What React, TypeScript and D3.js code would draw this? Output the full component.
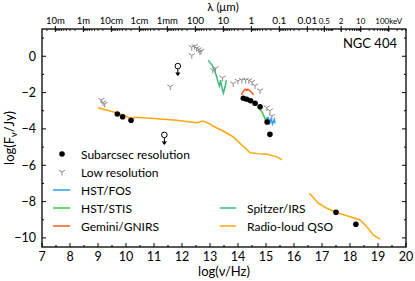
import React from "react";
import * as d3 from "d3";

// NGC 404 SED
const subarcsecNu = [9.69, 9.88, 10.18, 14.19, 14.31, 14.45, 14.61, 14.79, 15.04, 15.14, 17.5, 18.21];
const subarcsecLogF = [-3.18, -3.33, -3.52, -2.31, -2.37, -2.45, -2.59, -2.78, -3.62, -4.3, -8.59, -9.25];

const lowResNu = [9.12, 9.18, 9.24, 11.58, 12.35, 12.45, 12.52, 12.6, 12.68, 12.35, 12.64, 13.1, 13.2, 13.45,
  13.83, 14.0, 14.14, 14.27, 14.39, 14.5, 14.61, 14.79, 15.03, 15.14, 15.21];
const lowResLogF = [-2.4, -2.55, -2.62, -1.67, 0.5, 0.55, 0.45, 0.38, 0.3, 0.05, 0.25, -0.76, -0.66, -1.18,
  -1.5, -1.36, -1.31, -1.31, -1.33, -1.42, -1.61, -1.88, -2.82, -2.99, -3.29];

const upperLimNu = [11.85, 11.37];
const upperLimLogF = [-0.54, -4.33];

const fosNu = [15.03, 15.05, 15.09, 15.13, 15.18, 15.23, 15.29, 15.32];
const fosLogF = [-3.34, -3.56, -3.43, -3.67, -3.45, -3.73, -3.48, -3.7];

const stisNu = [14.76, 14.8, 14.84, 14.87, 14.9, 14.93, 14.96, 15.0, 15.03];
const stisLogF = [-2.79, -2.95, -3.04, -3.1, -3.23, -3.3, -3.43, -3.52, -3.67];

const gnirsNu = [14.13, 14.16, 14.19, 14.23, 14.27, 14.31, 14.35, 14.39, 14.43, 14.47, 14.51, 14.55];
const gnirsLogF = [-2.13, -1.98, -1.94, -1.86, -1.82, -1.88, -1.82, -1.86, -1.9, -1.97, -2.02, -2.13];

const irsNu = [12.94, 13.0, 13.04, 13.08, 13.12, 13.18, 13.24, 13.3, 13.34, 13.38, 13.43, 13.48, 13.54, 13.58];
const irsLogF = [-0.21, -0.35, -0.43, -0.5, -0.66, -0.87, -1.13, -1.49, -1.64, -1.31, -1.75, -2.02, -1.68, -1.31];

const qsoRadioNu = [8.99, 9.4, 9.8, 10.2, 10.32, 11.0, 11.8, 12.52, 12.75, 13.0, 13.1, 13.45, 13.82, 14.43, 14.7, 15.03, 15.39, 15.56];
const qsoRadioLogF = [-2.83, -3.0, -3.17, -3.45, -3.36, -3.43, -3.52, -3.66, -3.56, -3.73, -3.84, -4.1, -4.43, -5.31, -5.36, -5.4, -5.54, -5.71];

const qsoXrayNu = [16.55, 16.87, 17.17, 17.53, 18.0, 18.36, 18.6, 18.83, 19.07];
const qsoXrayLogF = [-7.54, -8.09, -8.37, -8.61, -8.83, -9.01, -9.38, -9.84, -10.07];

const lambdaLabels = ["10m", "1m", "10cm", "1cm", "1mm", "100", "10", "1", "0.1", "0.01"];
const lambdaMeters = [10, 1, 0.1, 0.01, 1e-3, 1e-4, 1e-5, 1e-6, 1e-7, 1e-8];
const keVLabels = ["0.5", "2", "10", "100keV"];
const keVValues = [0.5, 2, 10, 100];

const xTicks = [7, 8, 9, 10, 11, 12, 13, 14, 15, 16, 17, 18, 19, 20];
const yTicks = [0, -2, -4, -6, -8, -10];

const colors = {
  fos: "#2f9bef",
  stis: "#3ccc3c",
  gnirs: "#ff5a1f",
  irs: "#3cbb78",
  qso: "#ffa60d",
  low: "#8a8a8a",
};

const W = 415, H = 281;
const left = 42, right = 406, top = 29, bottom = 247;
const font = "Lato, sans-serif";

const c = 2.998e8;
const nuFromLambda = (m: number) => Math.log10(c / m);
const nuFromKeV = (e: number) => Math.log10(e * 2.418e17);

const tri = (r: number) => {
  const a = Math.PI / 6;
  return `M0,0L0,${r}M0,0L${-r * Math.cos(a)},${-r * Math.sin(a)}M0,0L${r * Math.cos(a)},${-r * Math.sin(a)}`;
};

const UpperLimit = ({ x, y, color }: { x: number; y: number; color: string }) => (
  <g transform={`translate(${x},${y})`} stroke={color} fill="none" strokeWidth={1}>
    <circle r={2.8} />
    <line x1={0} y1={2.8} x2={0} y2={9} />
    <path d="M-2,6.5L0,9.5L2,6.5" fill={color} />
  </g>
);

export default function App() {
  const x = d3.scaleLinear().domain([7, 20]).range([left, right]);
  const y = d3.scaleLinear().domain([-10.5, 1.5]).range([bottom, top]);

  const line = (nu: number[], f: number[]) =>
    d3.line<number>().x((d, i) => x(nu[i])).y((d, i) => y(f[i]))(nu) || "";

  // top-axis minor ticks
  const lamMinor: number[] = [];
  for (let p = 1; p >= -8; p--) {
    for (let k = 2; k <= 9; k++) {
      const v = nuFromLambda(k * Math.pow(10, p));
      if (v >= 7 && v <= 16.5) lamMinor.push(v);
    }
  }
  const keVMinor: number[] = [];
  for (let p = -1; p <= 2; p++) {
    for (let k = 1; k <= 9; k++) {
      const v = nuFromKeV(k * Math.pow(10, p));
      if (v >= 16.68 && v <= 20) keVMinor.push(v);
    }
  }
  const xMinor = d3.range(7.5, 20, 1);
  const yMinor = d3.range(-9, 1.5, 2);

  const legend1 = [
    { label: "Subarcsec resolution", kind: "dot", color: "#000" },
    { label: "Low resolution", kind: "tri", color: colors.low },
    { label: "HST/FOS", kind: "line", color: colors.fos },
    { label: "HST/STIS", kind: "line", color: colors.stis },
    { label: "Gemini/GNIRS", kind: "line", color: colors.gnirs },
  ];
  const legend2 = [
    { label: "Spitzer/IRS", color: colors.irs },
    { label: "Radio-loud QSO", color: colors.qso },
  ];

  return (
    <svg width={W} height={H} style={{ position: "absolute", left: 0, top: 0, fontFamily: font }}>
      <rect width={W} height={H} fill="#fff" />

      {/* spectra */}
      <path d={line(qsoRadioNu, qsoRadioLogF)} fill="none" stroke={colors.qso} strokeWidth={1.5} />
      <path d={line(qsoXrayNu, qsoXrayLogF)} fill="none" stroke={colors.qso} strokeWidth={1.5} />
      <path d={line(irsNu, irsLogF)} fill="none" stroke={colors.irs} strokeWidth={1.5} />
      <path d={line(gnirsNu, gnirsLogF)} fill="none" stroke={colors.gnirs} strokeWidth={1.5} />
      <path d={line(stisNu, stisLogF)} fill="none" stroke={colors.stis} strokeWidth={1.5} />
      <path d={line(fosNu, fosLogF)} fill="none" stroke={colors.fos} strokeWidth={1.5} />

      {lowResNu.map((nu, i) => (
        <path key={"l" + i} d={tri(3.5)} transform={`translate(${x(nu)},${y(lowResLogF[i])})`}
          stroke={colors.low} strokeWidth={1} fill="none" />
      ))}
      {upperLimNu.map((nu, i) => (
        <UpperLimit key={"u" + i} x={x(nu)} y={y(upperLimLogF[i])} color="#000" />
      ))}
      {subarcsecNu.map((nu, i) => (
        <circle key={"s" + i} cx={x(nu)} cy={y(subarcsecLogF[i])} r={2.8} fill="#000" />
      ))}

      {/* frame */}
      <rect x={left} y={top} width={right - left} height={bottom - top} fill="none" stroke="#000" strokeWidth={1.3} />

      {/* bottom axis */}
      {xTicks.map((t) => (
        <g key={"xt" + t}>
          <line x1={x(t)} x2={x(t)} y1={bottom} y2={bottom - 4} stroke="#000" />
          <text x={x(t)} y={261} fontSize={12.5} textAnchor="middle">{t}</text>
        </g>
      ))}
      {xMinor.map((t) => (
        <line key={"xm" + t} x1={x(t)} x2={x(t)} y1={bottom} y2={bottom - 2} stroke="#000" />
      ))}
      <text x={(left + right) / 2} y={276} fontSize={13} textAnchor="middle">log(ν/Hz)</text>

      {/* left & right axes */}
      {yTicks.map((t) => (
        <g key={"yt" + t}>
          <line x1={left} x2={left + 4} y1={y(t)} y2={y(t)} stroke="#000" />
          <line x1={right} x2={right - 4} y1={y(t)} y2={y(t)} stroke="#000" />
          <text x={36} y={y(t) + 4.5} fontSize={12.5} textAnchor="end">{t < 0 ? "−" + Math.abs(t) : t}</text>
        </g>
      ))}
      {yMinor.map((t) => (
        <g key={"ym" + t}>
          <line x1={left} x2={left + 2} y1={y(t)} y2={y(t)} stroke="#000" />
          <line x1={right} x2={right - 2} y1={y(t)} y2={y(t)} stroke="#000" />
        </g>
      ))}
      <text transform={`translate(14,${(top + bottom) / 2}) rotate(-90)`} fontSize={13} textAnchor="middle">
        log(F<tspan fontSize={9} dy={3}>ν</tspan><tspan dy={-3}>/Jy)</tspan>
      </text>

      {/* top axis */}
      {lambdaMeters.map((m, i) => (
        <g key={"lt" + i}>
          <line x1={x(nuFromLambda(m))} x2={x(nuFromLambda(m))} y1={top - 3} y2={top + 3} stroke="#000" />
          <text x={x(nuFromLambda(m))} y={23.5} fontSize={i >= 5 ? 10 : 9.5} textAnchor="middle">{lambdaLabels[i]}</text>
        </g>
      ))}
      {lamMinor.map((v, i) => (
        <line key={"lm" + i} x1={x(v)} x2={x(v)} y1={top} y2={top + 2} stroke="#000" strokeWidth={0.8} />
      ))}
      {keVValues.map((e, i) => (
        <g key={"kt" + i}>
          <line x1={x(nuFromKeV(e))} x2={x(nuFromKeV(e))} y1={top - 3} y2={top + 3} stroke="#000" />
          <text x={x(nuFromKeV(e))} y={23.5} fontSize={8} textAnchor="middle">{keVLabels[i]}</text>
        </g>
      ))}
      {keVMinor.map((v, i) => (
        <line key={"km" + i} x1={x(v)} x2={x(v)} y1={top} y2={top + 2} stroke="#000" strokeWidth={0.8} />
      ))}
      <text x={223} y={11.4} fontSize={11.5} textAnchor="middle">λ (μm)</text>

      <text x={397} y={48} fontSize={13} textAnchor="end">NGC 404</text>

      {/* legend */}
      {legend1.map((d, i) => {
        const ly = 154 + i * 18;
        return (
          <g key={"lg" + i}>
            {d.kind === "dot" && <circle cx={62} cy={ly} r={2.8} fill="#000" />}
            {d.kind === "tri" && <path d={tri(3.5)} transform={`translate(62,${ly})`} stroke={d.color} fill="none" />}
            {d.kind === "line" && <line x1={53} x2={70} y1={ly} y2={ly} stroke={d.color} strokeWidth={1.5} />}
            <text x={81} y={ly + 4.5} fontSize={12}>{d.label}</text>
          </g>
        );
      })}
      {legend2.map((d, i) => {
        const ly = 208 + i * 18;
        return (
          <g key={"lg2" + i}>
            <line x1={220} x2={236} y1={ly} y2={ly} stroke={d.color} strokeWidth={1.5} />
            <text x={247} y={ly + 4.5} fontSize={12}>{d.label}</text>
          </g>
        );
      })}
    </svg>
  );
}
